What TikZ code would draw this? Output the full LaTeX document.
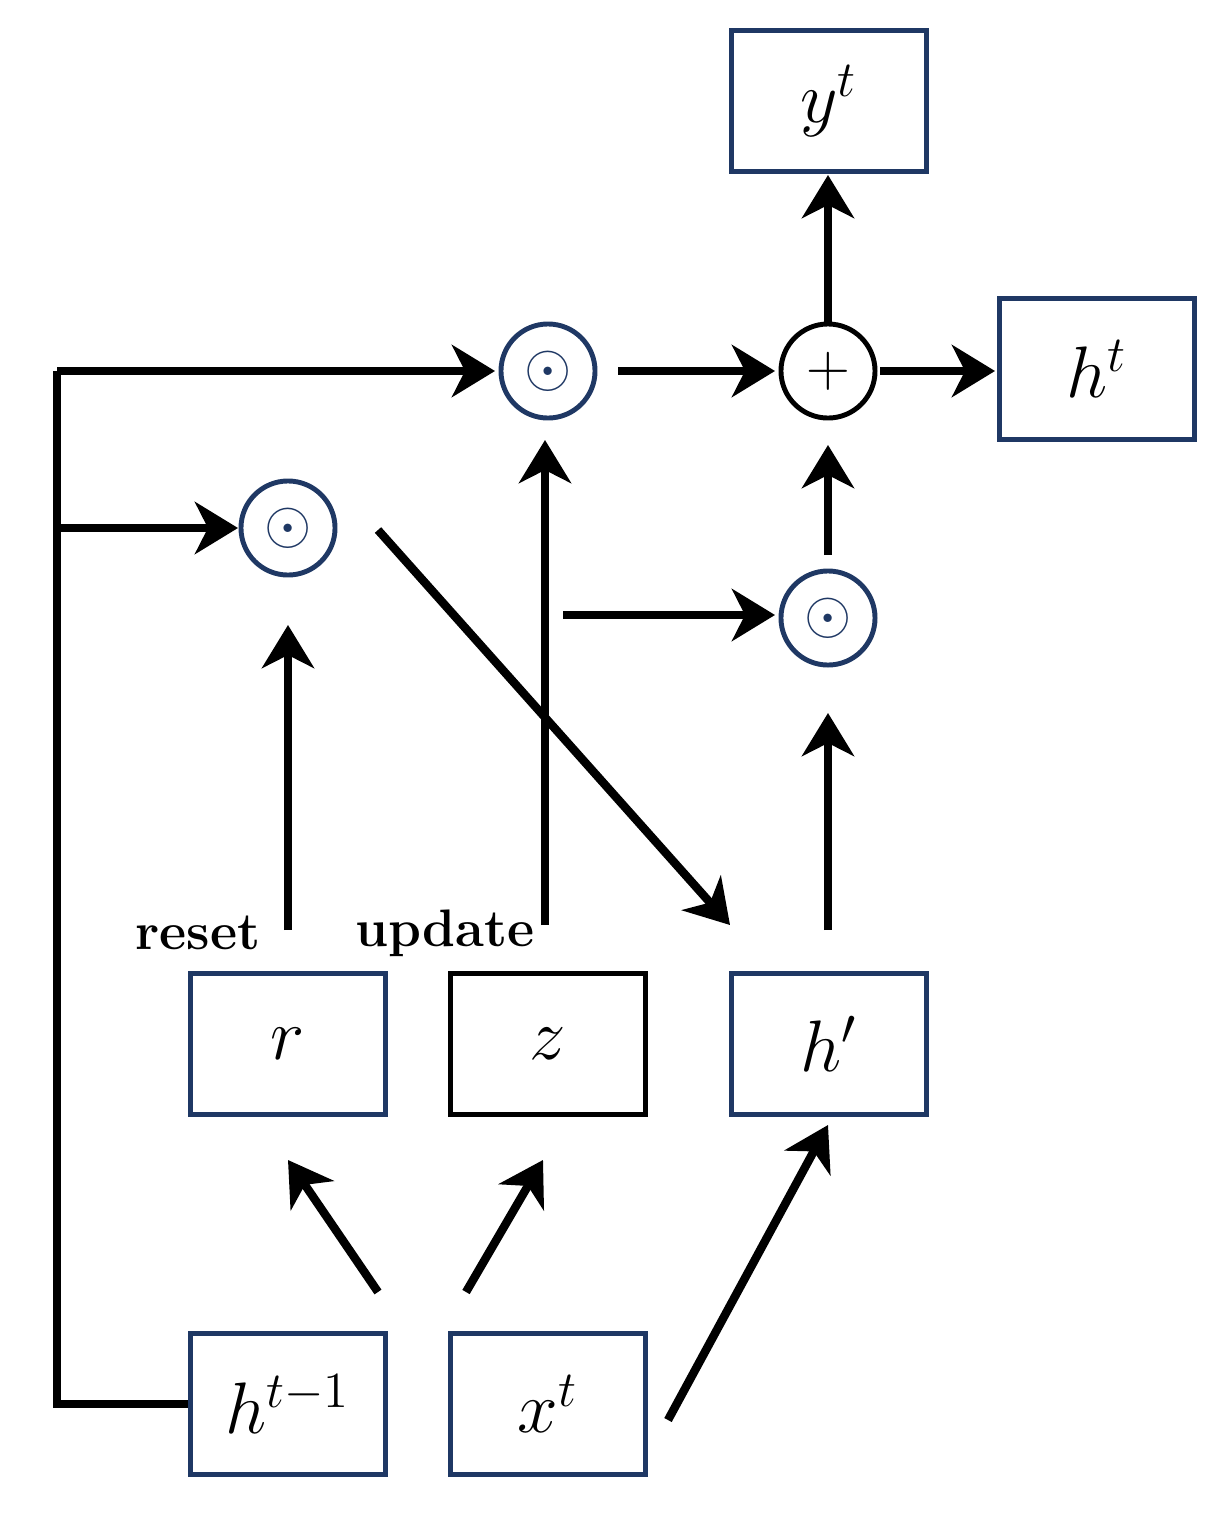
\documentclass[tikz,border=0pt]{standalone}
\usetikzlibrary{arrows.meta}
\begin{document}
\begin{tikzpicture}[x=0.01cm,y=-0.01cm,
  box/.style={draw=navy,line width=1.6pt,minimum width=1.95cm,minimum height=1.41cm,font=\fontsize{20}{24}\selectfont},
  op/.style={circle,draw=navy,line width=1.4pt,minimum size=0.94cm,inner sep=0pt,text=navy,font=\fontsize{18}{20}\selectfont},
  arr/.style={line width=2.4pt,-{Stealth[length=4.3mm,width=5.2mm,inset=1.3mm]}},
  ln/.style={line width=2.4pt},
  lab/.style={font=\fontsize{15}{18}\selectfont\bfseries}]
\definecolor{navy}{HTML}{1F3864}
\useasboundingbox (0,0) rectangle (1222,1515);
\node[box] (y) at (829,101) {$y^t$};
\node[box] (ht) at (1097,369) {$h^t$};
\node[box] (r) at (288,1044) {$r$};
\node[box,draw=black] (z) at (548,1044) {$z$};
\node[box] (hp) at (829,1044) {$h'$};
\node[box] (hprev) at (288,1404) {$h^{t-1}$};
\node[box] (x) at (548,1404) {$x^t$};
\node[op] (o1) at (548,371) {$\odot$};
\node[op] (o2) at (288,528) {$\odot$};
\node[op] (o3) at (828,618) {$\odot$};
\node[op,draw=black,text=black] (p) at (828,371) {$+$};
\coordinate (c1) at (57,1404);
\coordinate (c2) at (57,371);
\coordinate (c3) at (57,528);
\draw[ln,line join=miter] (hprev.west) -- (c1) -- (c2);
\draw[arr] (c2) -- (495,371);
\draw[arr] (c3) -- (238,528);
\coordinate (d1) at (378,530); \coordinate (d2) at (730,925);
\draw[arr] (d1) -- (d2);
\coordinate (rt) at (288,930); \coordinate (rh) at (288,625);
\draw[arr] (rt) -- (rh);
\coordinate (zt) at (545,925); \coordinate (zh) at (545,440);
\draw[arr] (zt) -- (zh);
\coordinate (zb) at (563,615);
\draw[arr] (zb) -- (775,615);
\draw[arr] (828,930) -- (828,713);
\draw[arr] (828,555) -- (828,445);
\draw[arr] (618,371) -- (775,371);
\draw[arr] (880,371) -- (995,371);
\draw[arr] (p.north) -- (828,175);
\coordinate (a1) at (378,1292); \coordinate (a2) at (288,1160);
\draw[arr] (a1) -- (a2);
\coordinate (b1) at (466,1292); \coordinate (b2) at (543,1160);
\draw[arr] (b1) -- (b2);
\coordinate (e1) at (668,1420); \coordinate (e2) at (828,1125);
\draw[arr] (e1) -- (e2);
\node[lab] (reset) at (198,933) {reset};
\node[lab] (update) at (445,933) {update};
\end{tikzpicture}
\end{document}
